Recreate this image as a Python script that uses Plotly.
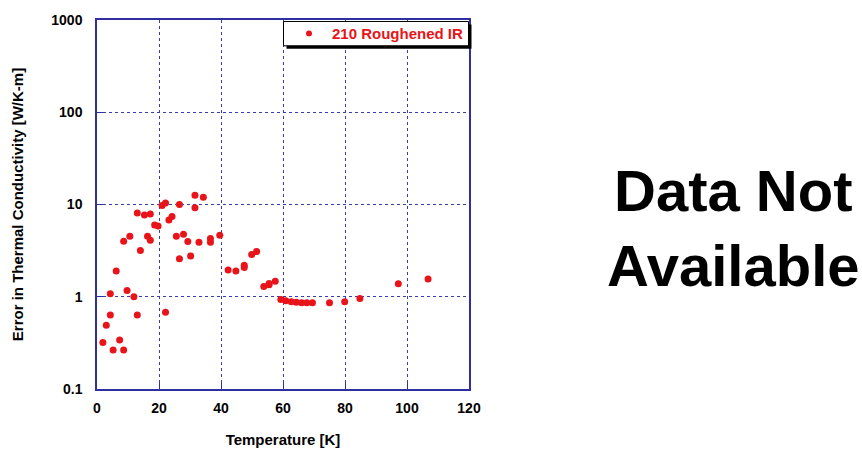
import plotly.graph_objects as go

# Data
temperature = [1.9, 3.0, 4.3, 4.3, 5.2, 6.2, 7.3, 8.6, 8.6, 9.7, 10.6, 11.9, 13.0, 13.0,
               14.0, 15.3, 16.3, 17.2, 17.2, 18.6, 19.7, 21.0, 22.1, 22.1, 23.2, 24.2,
               25.6, 26.6, 26.6, 27.9, 29.3, 30.2, 31.6, 31.6, 32.9, 34.3, 36.6, 36.6,
               39.6, 42.3, 44.8, 47.5, 47.5, 49.9, 51.5, 53.8, 55.5, 55.5, 57.5,
               59.3, 60.9, 62.7, 64.3, 66.0, 67.7, 69.5, 75.0, 79.9, 84.8, 97.2, 106.8]
error = [0.32, 0.49, 0.635, 1.08, 0.265, 1.9, 0.34, 0.265, 4.0, 1.17, 4.53, 1.0, 0.635, 8.1,
         3.17, 7.7, 4.53, 7.9, 4.1, 6.0, 5.85, 9.75, 10.4, 0.68, 6.8, 7.4,
         4.53, 10.0, 2.58, 4.76, 3.96, 2.76, 12.6, 9.2, 3.9, 12.0, 4.27, 3.9,
         4.64, 1.95, 1.9, 2.19, 2.08, 2.87, 3.09, 1.29, 1.35, 1.39, 1.47,
         0.935, 0.905, 0.88, 0.87, 0.86, 0.86, 0.86, 0.86, 0.88, 0.96, 1.38, 1.56]

series_name = "210 Roughened IR"
x_ticks = [0, 20, 40, 60, 80, 100, 120]
y_ticks = [0.1, 1, 10, 100, 1000]
y_tick_text = ["0.1", "1", "10", "100", "1000"]

FONT = "Liberation Sans, Arial, sans-serif"
NAVY = "#2f2fa0"
GRID = "#3a3ab4"
RED = "#e8141a"

fig = go.Figure()
fig.add_trace(go.Scatter(
    x=temperature, y=error, mode="markers", name=series_name, showlegend=False,
    marker=dict(color=RED, size=7, line=dict(width=0)),
))

W, H = 862, 458
ml, mr, mt, mb = 97, 393, 18, 68
pw = W - ml - mr
ph = H - mt - mb


def px_x(p):
    return (p - ml) / pw


def px_y(p):
    return 1 - (p - mt) / ph


# Legend box drawn by hand (box with drop shadow, marker and label)
lg_l, lg_r, lg_t, lg_b = 283.5, 468.5, 19.5, 44
shadow = 3
shapes = [
    dict(type="rect", xref="paper", yref="paper", layer="above",
         x0=px_x(lg_l + shadow), x1=px_x(lg_r + shadow),
         y0=px_y(lg_t + shadow), y1=px_y(lg_b + shadow),
         fillcolor="black", line=dict(width=0)),
    dict(type="rect", xref="paper", yref="paper", layer="above",
         x0=px_x(lg_l), x1=px_x(lg_r), y0=px_y(lg_t), y1=px_y(lg_b),
         fillcolor="white", line=dict(color="black", width=1)),
    dict(type="circle", xref="paper", yref="paper", layer="above",
         x0=px_x(306), x1=px_x(312), y0=px_y(28.5), y1=px_y(34.5),
         fillcolor=RED, line=dict(width=0)),
]

fig.update_layout(
    width=W, height=H,
    margin=dict(l=ml, r=mr, t=mt, b=mb),
    paper_bgcolor="white", plot_bgcolor="white",
    font=dict(family=FONT, color="black"),
    showlegend=False,
    shapes=shapes,
    xaxis=dict(
        range=[0, 120], tickvals=x_ticks, ticks="inside", ticklen=6, tickcolor=NAVY,
        showline=True, linecolor=NAVY, linewidth=1.5, mirror=True,
        showgrid=True, gridcolor=GRID, griddash="dot", gridwidth=1,
        zeroline=False,
        tickfont=dict(family=FONT, size=14, color="black", weight="bold"),
        ticklabelstandoff=5,
        title=dict(text="Temperature [K]", standoff=20,
                   font=dict(family=FONT, size=15, color="black", weight="bold")),
    ),
    yaxis=dict(
        type="log", range=[-1, 3], tickvals=y_ticks, ticktext=y_tick_text,
        ticks="inside", ticklen=6, tickcolor=NAVY,
        showline=True, linecolor=NAVY, linewidth=1.5, mirror=True,
        showgrid=True, gridcolor=GRID, griddash="dot", gridwidth=1,
        zeroline=False,
        tickfont=dict(family=FONT, size=14, color="black", weight="bold"),
        ticklabelstandoff=10,
        title=dict(text="Error in Thermal Conductivity [W/K-m]", standoff=24,
                   font=dict(family=FONT, size=15, color="black", weight="bold")),
    ),
    annotations=[
        dict(text=series_name, x=px_x(330), y=px_y(31.5),
             xref="paper", yref="paper", xanchor="left", yanchor="middle",
             showarrow=False,
             font=dict(family=FONT, size=15, color=RED, weight="bold")),
        dict(text="Data Not<br>Available", x=px_x(733), y=px_y(228),
             xref="paper", yref="paper", xanchor="center", yanchor="middle",
             showarrow=False, align="center",
             font=dict(family=FONT, size=58, color="black", weight="bold")),
    ],
)

fig.write_html("out.html")
